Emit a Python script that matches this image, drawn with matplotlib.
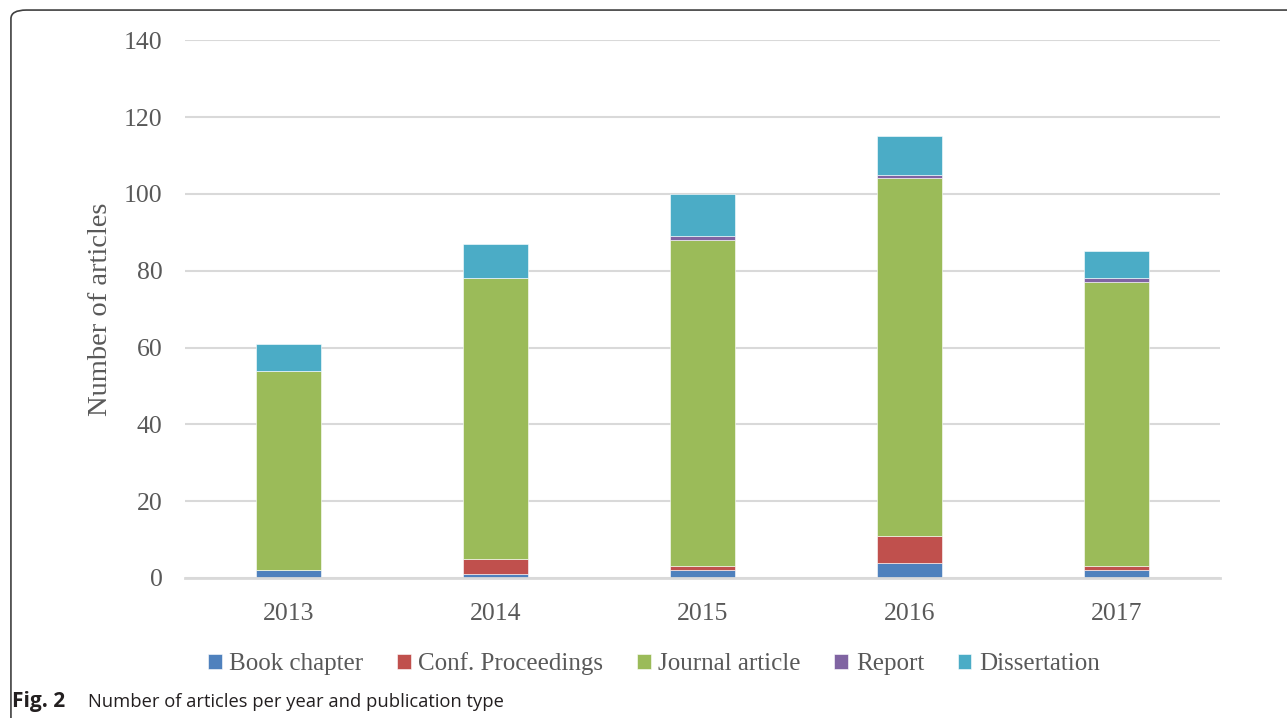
import matplotlib.pyplot as plt
from matplotlib.patches import FancyBboxPatch
import numpy as np

years = ['2013', '2014', '2015', '2016', '2017']
book_chapter = [2, 1, 2, 4, 2]
conf_proceedings = [0, 4, 1, 7, 1]
journal_article = [52, 73, 85, 93, 74]
report = [0, 0, 1, 1, 1]
dissertation = [7, 9, 11, 10, 7]

series = [
    ('Book chapter', book_chapter, '#4F81BD'),
    ('Conf. Proceedings', conf_proceedings, '#C0504D'),
    ('Journal article', journal_article, '#9BBB59'),
    ('Report', report, '#8064A2'),
    ('Dissertation', dissertation, '#4BACC6'),
]

serif = ['Liberation Serif', 'DejaVu Serif']
txt_color = '#595959'

fig = plt.figure(figsize=(12.87, 7.18), dpi=100)
ax = fig.add_axes([0.1437, 0.195, 0.8043, 0.749])

x = np.arange(len(years))
bottom = np.zeros(len(years))
for name, vals, col in series:
    ax.bar(x, vals, width=0.315, bottom=bottom, color=col, label=name,
           edgecolor='white', linewidth=0.4, zorder=3)
    bottom += np.array(vals)

ax.set_xlim(-0.5, len(years) - 0.5)
ax.set_ylim(0, 140)
ax.set_yticks(range(0, 141, 20))
ax.set_xticks(x)
ax.set_xticklabels(years)
ax.grid(True, axis='y', color='#D9D9D9', linewidth=1.5, zorder=0)
ax.tick_params(length=0, labelsize=18.5, labelcolor=txt_color)
ax.tick_params(axis='x', pad=18)
ax.tick_params(axis='y', pad=16)
for lab in ax.get_xticklabels() + ax.get_yticklabels():
    lab.set_family(serif)
for s in ['top', 'right', 'left']:
    ax.spines[s].set_visible(False)
ax.spines['bottom'].set_color('#D9D9D9')
ax.spines['bottom'].set_linewidth(2)
ax.spines['bottom'].set_zorder(4)

ax.set_ylabel('Number of articles', fontsize=20.5, color=txt_color, family=serif, labelpad=8)

leg = fig.legend(loc='center', bbox_to_anchor=(0.508, 0.076), ncol=5, frameon=False,
                 prop={'family': serif, 'size': 18}, handlelength=0.55, handleheight=0.55,
                 handletextpad=0.3, columnspacing=1.35, labelcolor=txt_color)

# caption
fig.text(0.0095, 0.016, 'Fig. 2', fontsize=15, fontweight='bold', family='Open Sans', color='#231F20')
fig.text(0.068, 0.016, 'Number of articles per year and publication type', fontsize=13.2,
         family='Open Sans', color='#231F20')

# frame
frame = FancyBboxPatch((0.0085, -0.05), 1.05, 1.036, boxstyle='round,pad=0,rounding_size=0.012',
                       transform=fig.transFigure, fill=False, edgecolor='#404040',
                       linewidth=1.2, clip_on=False)
fig.patches.append(frame)

fig.savefig('out.png', dpi=100)
